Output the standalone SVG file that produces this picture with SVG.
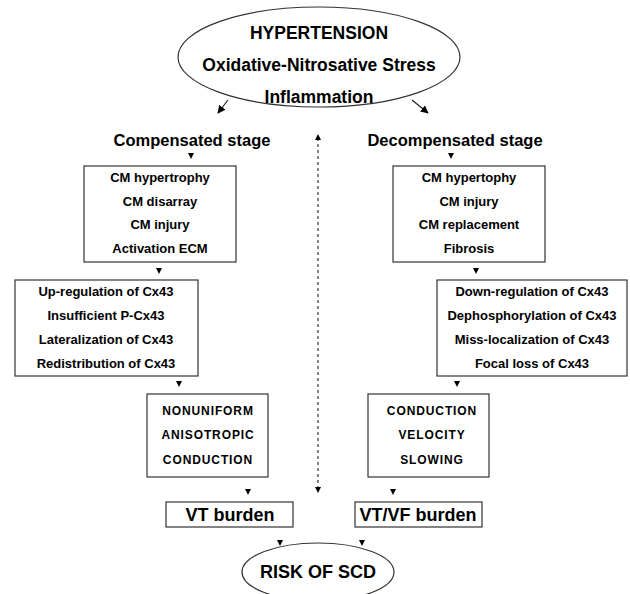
<svg xmlns="http://www.w3.org/2000/svg" width="630" height="594" viewBox="0 0 630 594">
<defs>
<style>
text{font-family:"Liberation Sans",Arial,sans-serif;font-weight:bold;fill:#000;text-anchor:middle}
.big{font-size:17.5px}
.hd{font-size:16.5px}
.bx{font-size:13px}
.cap{font-size:12px;letter-spacing:0.9px}
.lg{font-size:18px}
.box{fill:#fff;stroke:#333;stroke-width:1.2}
.ell{fill:#fff;stroke:#333;stroke-width:1.2}
.ah{fill:#000}
.ln{stroke:#222;stroke-width:1.2;fill:none}
</style>
<marker id="arr" viewBox="0 0 10 10" refX="9" refY="5" markerWidth="8" markerHeight="8" orient="auto" markerUnits="userSpaceOnUse">
<path d="M0,0 L10,5 L0,10 z" fill="#000"/>
</marker>
</defs>
<rect width="630" height="594" fill="#fff"/>

<g id="connectors">
<line class="ln" x1="228" y1="100" x2="218" y2="113" marker-end="url(#arr)"/>
<line class="ln" x1="412" y1="100" x2="428" y2="113" marker-end="url(#arr)"/>
<line x1="318" y1="138" x2="318" y2="488" stroke="#333" stroke-width="1.2" stroke-dasharray="3,3"/>
<path class="ah" d="M315,140 L321,140 L318,134 z"/>
<path class="ah" d="M315,487 L321,487 L318,493 z"/>
<path class="ah" d="M188,153 L194,153 L191,159 z"/>
<path class="ah" d="M448,153 L454,153 L451,159 z"/>
<path class="ah" d="M156,268 L162,268 L159,274 z"/>
<path class="ah" d="M473,268 L479,268 L476,274 z"/>
<path class="ah" d="M176,381 L182,381 L179,387 z"/>
<path class="ah" d="M454,381 L460,381 L457,387 z"/>
<path class="ah" d="M245,489 L251,489 L248,495 z"/>
<path class="ah" d="M390,489 L396,489 L393,495 z"/>
<path class="ah" d="M277,540 L283,540 L280,546 z"/>
<path class="ah" d="M359,540 L365,540 L362,546 z"/>
</g>

<g id="top">
<ellipse class="ell" cx="319" cy="57" rx="141" ry="50"/>
<text class="big" x="319" y="39">HYPERTENSION</text>
<text class="big" x="319" y="71">Oxidative-Nitrosative Stress</text>
<text class="big" x="319" y="103">Inflammation</text>
</g>

<g id="compensated"><text class="hd" x="192" y="146">Compensated stage</text></g>
<g id="decompensated"><text class="hd" x="455" y="146">Decompensated stage</text></g>

<g id="box-l1">
<rect class="box" x="84" y="166" width="152" height="96"/>
<text class="bx" x="160" y="182">CM hypertrophy</text>
<text class="bx" x="160" y="206">CM disarray</text>
<text class="bx" x="160" y="229">CM injury</text>
<text class="bx" x="160" y="253">Activation ECM</text>
</g>

<g id="box-r1">
<rect class="box" x="393" y="166" width="152" height="96"/>
<text class="bx" x="469" y="182">CM hypertophy</text>
<text class="bx" x="469" y="206">CM injury</text>
<text class="bx" x="469" y="229">CM replacement</text>
<text class="bx" x="469" y="253">Fibrosis</text>
</g>

<g id="box-l2">
<rect class="box" x="15" y="280" width="183" height="96"/>
<text class="bx" x="106" y="296">Up-regulation of Cx43</text>
<text class="bx" x="106" y="320">Insufficient P-Cx43</text>
<text class="bx" x="106" y="344">Lateralization of Cx43</text>
<text class="bx" x="106" y="368">Redistribution of Cx43</text>
</g>

<g id="box-r2">
<rect class="box" x="437" y="280" width="190" height="96"/>
<text class="bx" x="532" y="296">Down-regulation of Cx43</text>
<text class="bx" x="532" y="320">Dephosphorylation of Cx43</text>
<text class="bx" x="532" y="344">Miss-localization of Cx43</text>
<text class="bx" x="532" y="368">Focal loss of Cx43</text>
</g>

<g id="box-l3">
<rect class="box" x="147" y="394" width="121" height="83"/>
<text class="cap" x="208" y="415">NONUNIFORM</text>
<text class="cap" x="208" y="439">ANISOTROPIC</text>
<text class="cap" x="208" y="464">CONDUCTION</text>
</g>

<g id="box-r3">
<rect class="box" x="368" y="394" width="121" height="83"/>
<text class="cap" x="432" y="415">CONDUCTION</text>
<text class="cap" x="432" y="439">VELOCITY</text>
<text class="cap" x="432" y="464">SLOWING</text>
</g>

<g id="vt">
<rect class="box" x="166" y="502" width="127" height="25"/>
<text class="lg" x="230" y="521">VT burden</text>
</g>

<g id="vtvf">
<rect class="box" x="355" y="502" width="127" height="25"/>
<text class="lg" x="418" y="521">VT/VF burden</text>
</g>

<g id="scd">
<ellipse class="ell" cx="318" cy="572" rx="76" ry="29"/>
<text class="lg" x="318" y="578">RISK OF SCD</text>
</g>
</svg>
